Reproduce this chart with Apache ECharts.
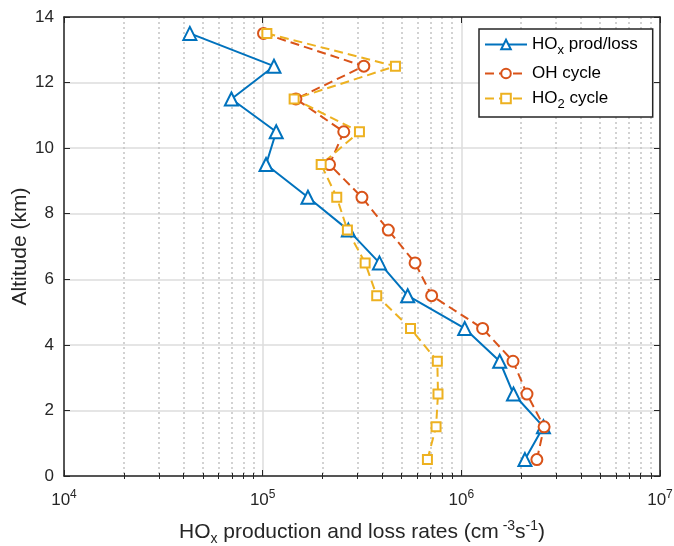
<!DOCTYPE html>
<html><head><meta charset="utf-8">
<script src="https://cdn.jsdelivr.net/npm/echarts@6/dist/echarts.min.js"></script>
<style>html,body{margin:0;padding:0;background:#fff}#c{width:674px;height:546px}</style>
</head><body><div id="c"></div>
<script>
const altitudes = [0.5,1.5,2.5,3.5,4.5,5.5,6.5,7.5,8.5,9.5,10.5,11.5,12.5,13.5];
const hoxProdLoss = [2.09e6,2.59e6,1.83e6,1.56e6,1.04e6,5.37e5,3.87e5,2.70e5,1.69e5,1.04e5,1.17e5,6.96e4,1.14e5,4.3e4];
const ohCycle = [2.40e6,2.61e6,2.14e6,1.82e6,1.28e6,7.09e5,5.85e5,4.29e5,3.16e5,2.17e5,2.56e5,1.47e5,3.23e5,1.01e5];
const ho2Cycle = [6.75e5,7.46e5,7.63e5,7.57e5,5.55e5,3.75e5,3.28e5,2.67e5,2.36e5,1.97e5,3.07e5,1.44e5,4.66e5,1.05e5];
const seriesNames = ['HOx prod/loss','OH cycle','HO2 cycle'];
const xMin = 1e4, xMax = 1e7;
const yMin = 0, yMax = 14, yStep = 2;

const FONT = 'Liberation Sans, Arial, Helvetica, sans-serif';
const AX = '#262626';
const TICKF = 17, TITLEF = 21, LEGF = 17;
// minor decade positions (in exponent space) for the minor grid
const minorExp = [];
for (let e = 4; e < 7; e++) for (let k = 2; k <= 9; k++) minorExp.push(e + Math.log10(k));

function pairs(xs){ return xs.map((v,i)=>[v, altitudes[i]]); }

const chart = echarts.init(document.getElementById('c'), null, {renderer:'canvas'});
const common = {
  splitLine:{show:false}, axisLabel:{show:false}, axisTick:{show:false}, axisLine:{show:false}
};
chart.setOption({
  animation:false,
  backgroundColor:'#fff',
  textStyle:{fontFamily:FONT},
  grid:{left:64,right:14,top:17,bottom:70,containLabel:false,outerBoundsMode:'none'},
  xAxis:[
    { type:'log', logBase:10, min:xMin, max:xMax, position:'bottom', gridIndex:0,
      axisLine:{show:true, onZero:false, lineStyle:{color:AX,width:1.5}},
      axisTick:{show:true, inside:true, length:6, lineStyle:{color:AX,width:1}},
      splitLine:{show:true, lineStyle:{color:'#dcdcdc', width:1.5}},
      axisLabel:{margin:13, color:'#262626', fontFamily:FONT,
        formatter:v=>'{b|10}{s|'+Math.round(Math.log10(v))+'}',
        rich:{b:{fontSize:TICKF,fontFamily:FONT,color:'#262626'}, s:{fontSize:12,fontFamily:FONT,color:'#262626',padding:[0,0,11,0]}}},
      name:'{t|HO}{sub|x}{t| production and loss rates (cm}{sup| -3}{t|s}{sup|-1}{t|)}',
      nameLocation:'middle', nameGap:42,
      nameTextStyle:{rich:{
        t:{fontSize:TITLEF,fontFamily:FONT,color:'#262626'},
        sub:{fontSize:14,fontFamily:FONT,color:'#262626',padding:[14,0,0,0]},
        sup:{fontSize:14,fontFamily:FONT,color:'#262626',padding:[0,0,12,0]}}}
    },
    Object.assign({}, common, { type:'value', min:4, max:7, position:'bottom', gridIndex:0,
      axisTick:{show:true, inside:true, length:3, customValues:minorExp, lineStyle:{color:AX,width:1}},
      splitLine:{show:true, lineStyle:{color:'#c4c4c4', width:1.5, type:[2,3]}} }),
    Object.assign({}, common, { type:'value', min:4, max:7, interval:1, position:'top', gridIndex:0,
      axisLine:{show:true, onZero:false, lineStyle:{color:AX,width:1.5}},
      axisTick:{show:true, inside:true, length:6, lineStyle:{color:AX,width:1}} }),
    Object.assign({}, common, { type:'value', min:4, max:7, position:'top', gridIndex:0,
      axisTick:{show:true, inside:true, length:3, customValues:minorExp, lineStyle:{color:AX,width:1}} })
  ],
  yAxis:[
    { type:'value', min:yMin, max:yMax, interval:yStep, position:'left',
      axisLine:{show:true, onZero:false, lineStyle:{color:AX,width:1.5}},
      axisTick:{show:true, inside:true, length:6, lineStyle:{color:AX,width:1}},
      splitLine:{show:true, lineStyle:{color:'#dcdcdc', width:1.5}},
      axisLabel:{fontSize:TICKF, color:'#262626', margin:10, fontFamily:FONT},
      name:'Altitude (km)', nameLocation:'middle', nameGap:33, nameRotate:90, nameMoveOverlap:false,
      nameTextStyle:{fontSize:TITLEF, color:'#262626', fontFamily:FONT}
    },
    Object.assign({}, common, { type:'value', min:yMin, max:yMax, interval:yStep, position:'right',
      axisLine:{show:true, onZero:false, lineStyle:{color:AX,width:1.5}},
      axisTick:{show:true, inside:true, length:6, lineStyle:{color:AX,width:1}} })
  ],
  legend:{
    left:479, top:29, orient:'vertical', itemWidth:42, itemHeight:12, itemGap:8,
    padding:[7,15,6,5], borderColor:'#262626', borderWidth:1.5, backgroundColor:'#fff',
    data:seriesNames,
    formatter:n=>{
      if(n==='HOx prod/loss') return '{t|HO}{sub|x}{t| prod/loss}';
      if(n==='HO2 cycle') return '{t|HO}{sub|2}{t| cycle}';
      return '{t|'+n+'}';
    },
    textStyle:{rich:{
      t:{fontSize:LEGF,fontFamily:FONT,color:'#000'},
      sub:{fontSize:13,fontFamily:FONT,color:'#000',padding:[12,0,0,0]}}}
  },
  series:[
    { name:seriesNames[0], type:'line', xAxisIndex:0, yAxisIndex:0, data:pairs(hoxProdLoss),
      symbol:'emptyTriangle', symbolSize:13, color:'#0072BD',
      lineStyle:{width:2,color:'#0072BD'}, itemStyle:{color:'#0072BD',borderWidth:2} },
    { name:seriesNames[1], type:'line', xAxisIndex:0, yAxisIndex:0, data:pairs(ohCycle),
      symbol:'emptyCircle', symbolSize:11, color:'#D95319',
      lineStyle:{width:2,color:'#D95319',type:[9,5]}, itemStyle:{color:'#D95319',borderWidth:2} },
    { name:seriesNames[2], type:'line', xAxisIndex:0, yAxisIndex:0, data:pairs(ho2Cycle),
      symbol:'emptyRect', symbolSize:9, color:'#EDB120',
      lineStyle:{width:2,color:'#EDB120',type:[9,5]}, itemStyle:{color:'#EDB120',borderWidth:2} }
  ]
});
</script></body></html>
